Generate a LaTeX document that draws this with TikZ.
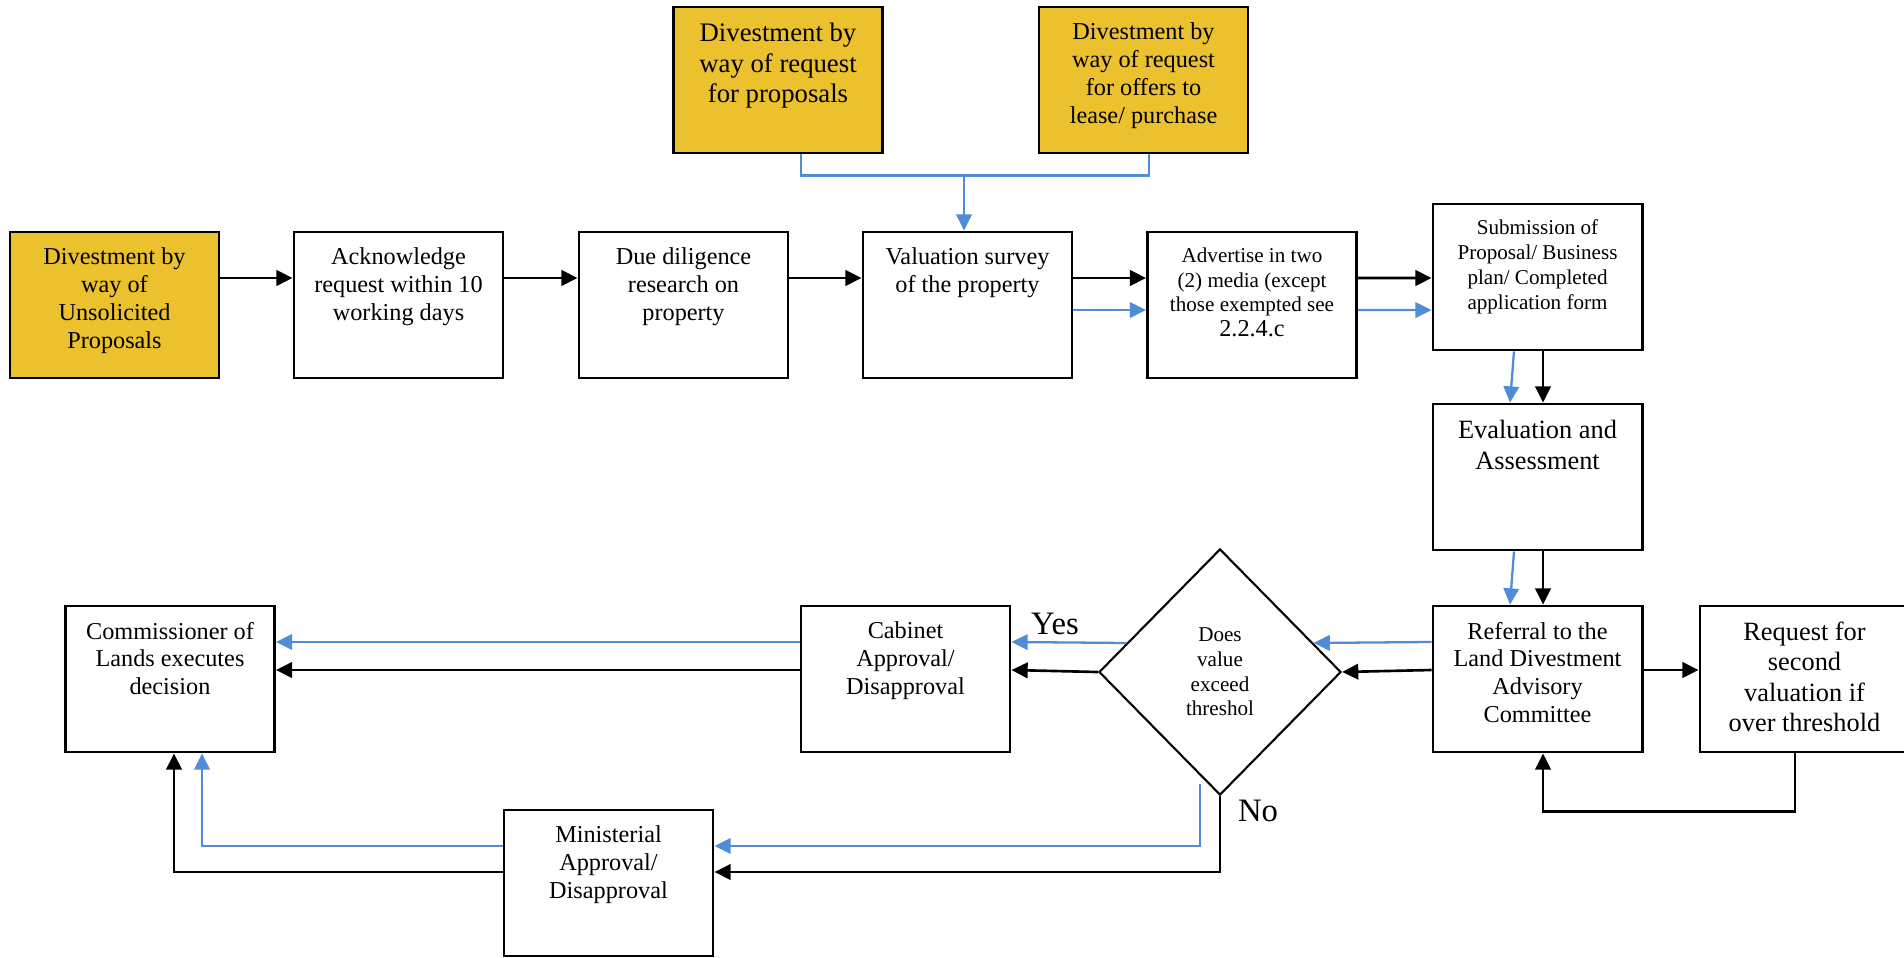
\documentclass[tikz,border=0pt]{standalone}
\usepackage{fontspec}
\setmainfont{Liberation Serif}
\usetikzlibrary{arrows.meta,shapes.geometric}

\definecolor{goldbox}{RGB}{235,193,45}
\definecolor{lineblue}{RGB}{80,140,215}

\newcommand{\boxtext}[1]{\parbox[c][1.14cm][t]{2cm}{\centering #1}}

\begin{document}
\begin{tikzpicture}[
		x=0.01cm, y=-0.01cm,
		every node/.style={inner sep=0pt},
		stage/.style={draw, line width=0.8pt, minimum width=2.09cm, minimum height=1.46cm,
			font=\fontsize{6.9}{7.9}\selectfont},
		gold/.style={stage, fill=goldbox},
		query/.style={draw, diamond, line width=0.6pt, minimum width=2.42cm, minimum height=2.46cm,
			align=center, font=\fontsize{6}{7}\selectfont},
		answer/.style={font=\fontsize{9.3}{10}\selectfont},
		tip/.style={-{Triangle[length=4.6pt,width=4.4pt]}},
		blk/.style={line width=0.75pt},
		blu/.style={line width=0.65pt, draw=lineblue}]
		
		\useasboundingbox (0,0) rectangle (1904,957);
		
		% top row
		\node[gold] (rfp) at (778,80) {\boxtext{\fontsize{7.6}{8.7}\selectfont Divestment by\\way of request\\for proposals}};
		\node[gold] (offers) at (1143.5,80) {\boxtext{Divestment by\\way of request\\for offers to\\lease/ purchase}};
		
		% main row
		\node[gold] (unsol) at (114.5,305) {\boxtext{Divestment by\\way of\\Unsolicited\\Proposals}};
		\node[stage] (ack) at (398.5,305) {\boxtext{Acknowledge\\request within 10\\working days}};
		\node[stage] (due) at (683.5,305) {\boxtext{Due diligence\\research on\\property}};
		\node[stage] (valu) at (967.5,305) {\boxtext{Valuation survey\\of the property}};
		\node[stage] (adv) at (1252,305) {\boxtext{\fontsize{6}{7}\selectfont Advertise in two\\(2) media (except\\those exempted see\\{\fontsize{6.9}{8.2}\selectfont 2.2.4.c}}};
		\node[stage] (subm) at (1537.5,277) {\boxtext{\fontsize{6}{7.1}\selectfont Submission of\\Proposal/ Business\\plan/ Completed\\application form}};
		\node[stage] (eval) at (1537.5,477) {\boxtext{\fontsize{7.5}{8.8}\selectfont Evaluation and\\Assessment}};
		
		% decision row
		\node[stage] (refer) at (1537.5,679) {\boxtext{Referral to the\\Land Divestment\\Advisory\\Committee}};
		\node[stage] (second) at (1804.5,679) {\boxtext{\fontsize{7.5}{8.6}\selectfont Request for\\second\\valuation if\\over threshold}};
		\node[query] (diam) at (1220,672) {Does\\value\\exceed\\threshol};
		\node[stage] (cab) at (905.5,679) {\boxtext{Cabinet\\Approval/\\Disapproval}};
		\node[stage] (comm) at (170,679) {\boxtext{Commissioner of\\Lands executes\\decision}};
		\node[stage] (mini) at (608.5,883) {\boxtext{Ministerial\\Approval/\\Disapproval}};
		
		\node[answer] (yes) at (1055,624) {Yes};
		\node[answer] (no) at (1258,811) {No};
		
		% feeders from the top
		\coordinate (join) at (964,174);
		\draw[blu] ([xshift=0.23cm]rfp.south) -- ++(0,21) -| ([xshift=0.055cm]offers.south);
		\draw[blu,tip] (join) -- (join |- valu.north);
		
		% main row arrows
		\draw[blk,tip] ([yshift=0.27cm]unsol.east) -- ([yshift=0.27cm]ack.west);
		\draw[blk,tip] ([yshift=0.27cm]ack.east) -- ([yshift=0.27cm]due.west);
		\draw[blk,tip] ([yshift=0.27cm]due.east) -- ([yshift=0.27cm]valu.west);
		\draw[blk,tip] ([yshift=0.27cm]valu.east) -- ([yshift=0.27cm]adv.west);
		\draw[blu,tip] ([yshift=-0.05cm]valu.east) -- ([yshift=-0.05cm]adv.west);
		\draw[blk,tip] ([yshift=0.27cm]adv.east) -- ([yshift=-0.01cm]subm.west);
		\draw[blu,tip] ([yshift=-0.05cm]adv.east) -- ([yshift=-0.33cm]subm.west);
		
		% down the right side
		\draw[blk,tip] ([xshift=0.055cm]subm.south) -- ([xshift=0.055cm]eval.north);
		\draw[blu,tip] ([xshift=-0.235cm]subm.south) -- ([xshift=-0.275cm]eval.north);
		\draw[blk,tip] ([xshift=0.055cm]eval.south) -- ([xshift=0.055cm]refer.north);
		\draw[blu,tip] ([xshift=-0.235cm]eval.south) -- ([xshift=-0.275cm]refer.north);
		
		% second valuation loop
		\draw[blk,tip] ([yshift=0.09cm]refer.east) -- ([yshift=0.09cm]second.west);
		\draw[blk,tip] ([xshift=-0.095cm]second.south) -- ++(0,58) -| ([xshift=0.055cm]refer.south);
		
		% into the decision
		\draw[blk,tip] ([yshift=0.09cm]refer.west) -- (diam.east);
		\draw[blu,tip] ([yshift=0.37cm]refer.west) -- ([xshift=-0.285cm,yshift=0.29cm]diam.east);
		
		% yes branch
		\draw[blk,tip] (diam.west) -- ([yshift=0.09cm]cab.east);
		\draw[blu,tip] ([xshift=0.285cm,yshift=0.29cm]diam.west) -- ([yshift=0.37cm]cab.east);
		\draw[blk,tip] ([yshift=0.09cm]cab.west) -- ([yshift=0.09cm]comm.east);
		\draw[blu,tip] ([yshift=0.37cm]cab.west) -- ([yshift=0.37cm]comm.east);
		
		% no branch
		\draw[blk,tip] (diam.south) |- ([yshift=0.11cm]mini.east);
		\draw[blu,tip] ([xshift=-0.2cm,yshift=0.12cm]diam.south) |- ([yshift=0.37cm]mini.east);
		\draw[blk,tip] ([yshift=0.11cm]mini.west) -| ([xshift=0.04cm]comm.south);
		\draw[blu,tip] ([yshift=0.37cm]mini.west) -| ([xshift=0.32cm]comm.south);
		
	\end{tikzpicture}
\end{document}
